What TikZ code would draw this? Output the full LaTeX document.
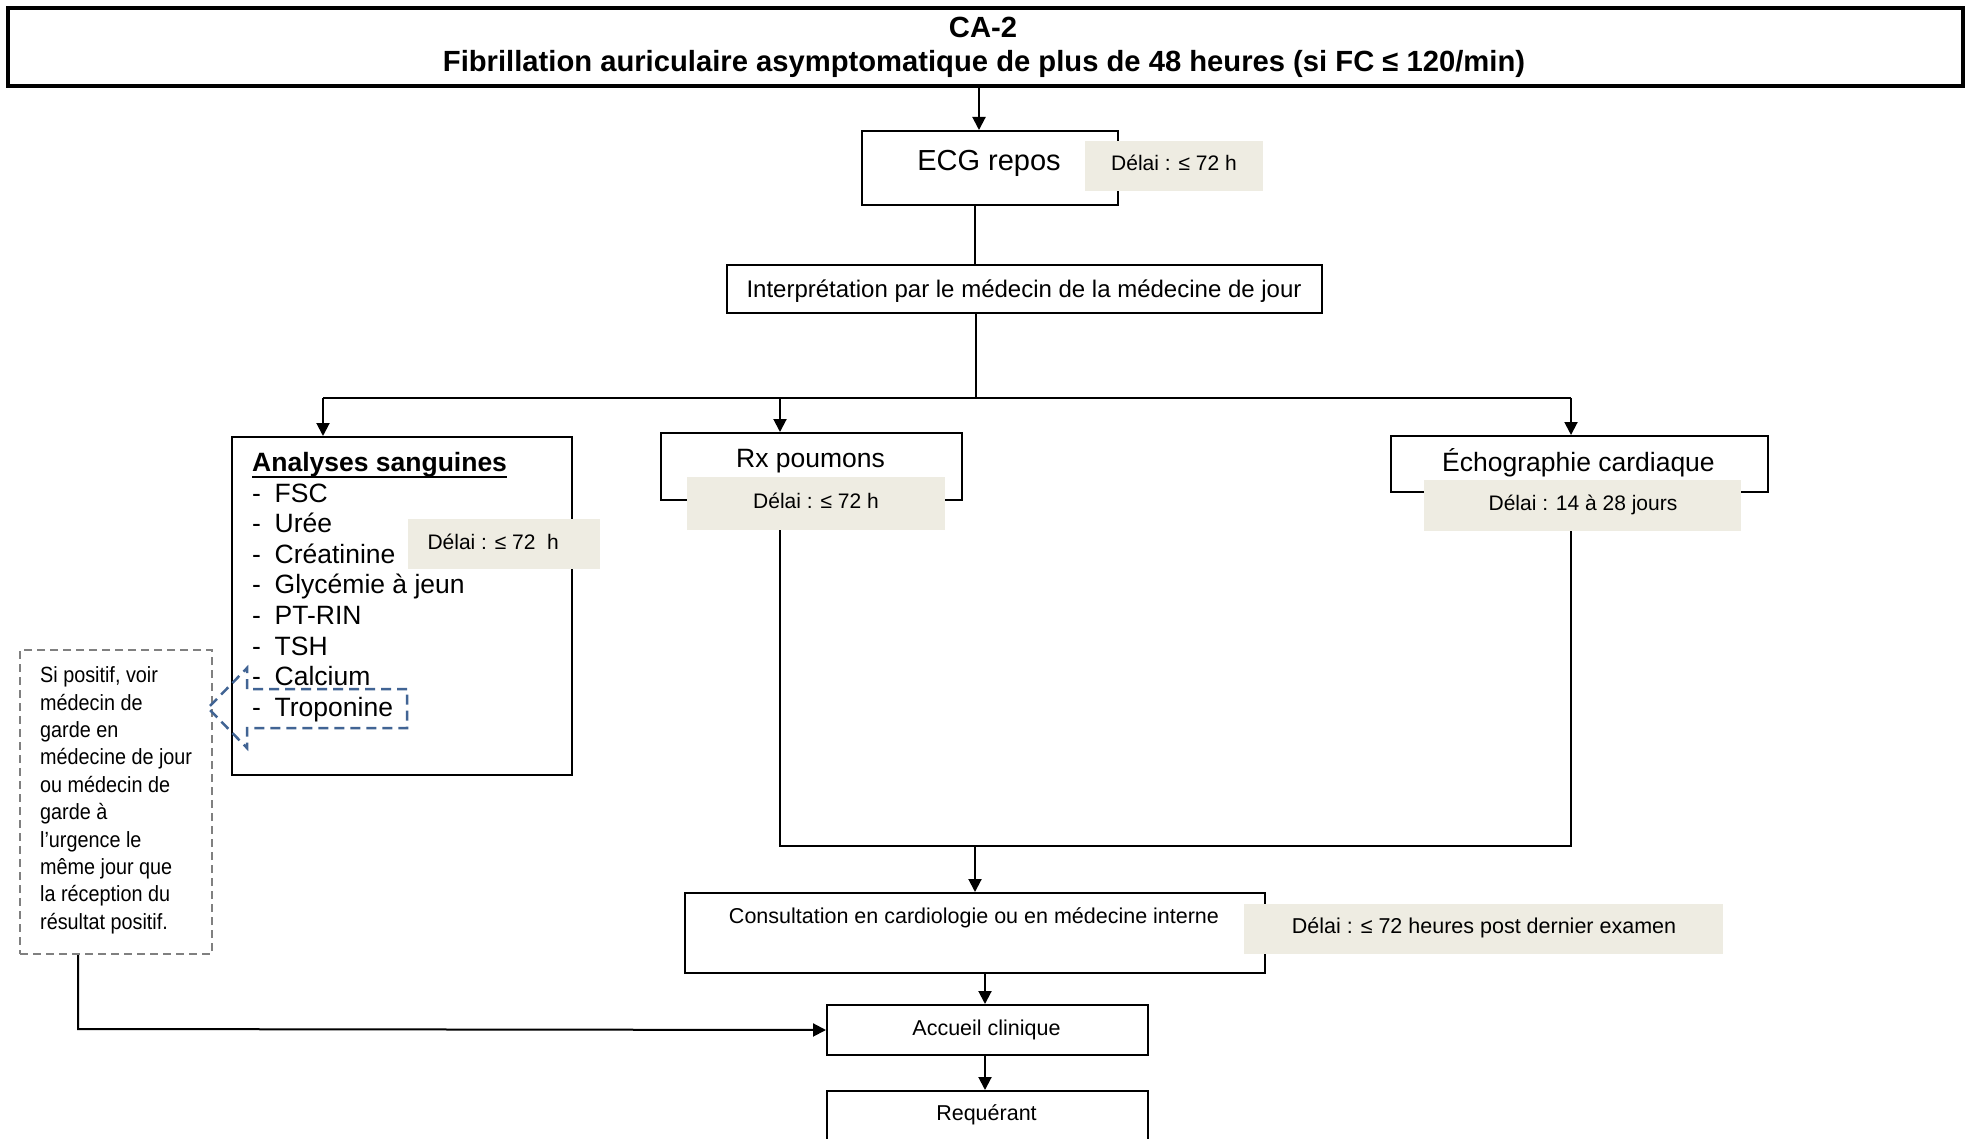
\documentclass[tikz,border=0pt]{standalone}
\usepackage{fontspec}
\setmainfont{Liberation Sans}
\newfontfamily\notefont[FakeStretch=0.9]{Liberation Sans}
\usetikzlibrary{arrows.meta}
\definecolor{delaifill}{RGB}{238,236,226}
\definecolor{calloutblue}{RGB}{65,100,148}
\definecolor{notegray}{RGB}{128,128,128}
\newcommand\setfs[1]{\fontsize{#1pt}{#1pt}\selectfont}

\begin{document}
\begin{tikzpicture}[x=1pt,y=-1pt,
  box/.style={draw=black, line width=2pt, rectangle, inner sep=0pt, anchor=north west},
  delai/.style={fill=delaifill, rectangle, inner sep=0pt, anchor=north west},
  txt/.style={inner sep=0pt, anchor=base},
  arr/.style={line width=2pt, -{Triangle[length=13pt,width=13pt]}},
  ln/.style={line width=2pt},
]
\useasboundingbox (0,0) rectangle (1965,1139);
\clip (0,0) rectangle (1965,1139);
\fill[white] (0,0) rectangle (1965,1139);

% ---- boxes ----
\node[box, line width=4pt, minimum width=1955pt, minimum height=78pt] (title) at (6,6) {};
\node[box, minimum width=256pt, minimum height=74pt] (ecg) at (861,130) {};
\node[box, minimum width=595pt, minimum height=48pt] (interp) at (726,264) {};
\node[box, minimum width=340pt, minimum height=338pt] (analyses) at (231,436) {};
\node[box, minimum width=301pt, minimum height=67pt] (rx) at (660,432) {};
\node[box, minimum width=377pt, minimum height=56pt] (echo) at (1390,435) {};
\node[box, minimum width=580pt, minimum height=80pt] (consult) at (684,892) {};
\node[box, minimum width=321pt, minimum height=50pt] (accueil) at (826,1004) {};
\node[box, minimum width=321pt, minimum height=80pt] (requerant) at (826,1090) {};
\node[box, draw=notegray, dash pattern=on 8pt off 5pt, minimum width=192pt, minimum height=304pt] (note) at (19,649) {};

% ---- delay tags ----
\node[delai, minimum width=178pt, minimum height=50pt] (decg) at (1085,141) {};
\node[delai, minimum width=192pt, minimum height=50pt] (dan) at (408,519) {};
\node[delai, minimum width=258pt, minimum height=53pt] (drx) at (687,477) {};
\node[delai, minimum width=317pt, minimum height=51pt] (decho) at (1424,480) {};
\node[delai, minimum width=479pt, minimum height=50pt] (dcons) at (1244,904) {};

% ---- texts ----
\node[txt, font=\bfseries\setfs{29.2}] (ca) at (983,37.5) {CA-2};
\node[txt, font=\bfseries\setfs{29.2}] (titre) at (984,72) {Fibrillation auriculaire asymptomatique de plus de 48 heures (si FC ≤ 120/min)};
\node[txt, font=\setfs{29}] (tecg) at (989,170.5) {ECG repos};
\node[txt, font=\setfs{21}] (tdecg) at (1174,171) {Délai : ≤ 72 h};
\node[txt, font=\setfs{24}] (tinterp) at (1024,297.5) {Interprétation par le médecin de la médecine de jour};

\node[txt, anchor=base west, font=\bfseries\setfs{26.5}] (atitle) at (252,471.7) {Analyses sanguines};
\draw[line width=2pt] ([yshift=-5pt]atitle.base west) -- ([yshift=-5pt]atitle.base east);
\foreach \t [count=\i from 0] in {FSC,Urée,Créatinine,Glycémie à jeun,PT-RIN,TSH,Calcium,Troponine} {
  \node[txt, anchor=base west, font=\setfs{26.5}] (dash\i) at (252,{502+30.6*\i}) {-};
  \node[txt, anchor=base west, font=\setfs{26.5}] (item\i) at (274.5,{502+30.6*\i}) {\t};
}
\node[txt, anchor=base west, font=\setfs{21}] (tdan) at (427.3,549.3) {Délai : ≤ 72\ \ h};

\node[txt, font=\setfs{26.5}] (trx) at (810.5,467.5) {Rx poumons};
\node[txt, font=\setfs{21}] (tdrx) at (816,508.3) {Délai : ≤ 72 h};
\node[txt, font=\setfs{26.5}] (techo) at (1578.5,471.7) {Échographie cardiaque};
\node[txt, font=\setfs{21}] (tdecho) at (1583,510) {Délai : 14 à 28 jours};

\node[txt, font=\setfs{21.5}] (tcons) at (974,923.6) {Consultation en cardiologie ou en médecine interne};
\node[txt, font=\setfs{21.5}] (tdcons) at (1484,933.6) {Délai : ≤ 72 heures post dernier examen};
\node[txt, font=\setfs{21.5}] (tacc) at (986.5,1035) {Accueil clinique};
\node[txt, font=\setfs{21.5}] (treq) at (986.5,1120) {Requérant};

\foreach \t [count=\i from 0] in {{Si positif, voir},médecin de,garde en,médecine de jour,ou médecin de,garde à,l’urgence le,même jour que,la réception du,résultat positif.} {
  \node[txt, anchor=base west, font=\notefont\setfs{22}] (note\i) at (40,{682.7+27.4*\i}) {\t};
}

% ---- callout around Troponine ----
\draw[calloutblue, line width=2.5pt, dash pattern=on 10pt off 6pt]
  (407,689) -- (247,689) -- (247,668) -- (208,708) -- (247,748) -- (247,728) -- (407,728) -- cycle;

% ---- connectors ----
\coordinate (xa) at (979,0);
\coordinate (xb) at (975,0);
\coordinate (busM) at (976,398);
\coordinate (busL) at (323,398);
\coordinate (busC) at (780,398);
\coordinate (busR) at (1571,398);
\coordinate (joinL) at (780,846);
\coordinate (joinM) at (975,846);
\coordinate (joinR) at (1571,846);
\coordinate (xc) at (985,0);
\coordinate (noteturn) at (78,1029);

\draw[arr] (title.south -| xa) -- (ecg.north -| xa);
\draw[ln] (ecg.south -| xb) -- (interp.north -| xb);
\draw[ln] (interp.south -| busM) -- (busM);
\draw[ln] (busL) -- (busR);
\draw[arr] (busL) -- (analyses.north -| busL);
\draw[arr] (busC) -- (rx.north -| busC);
\draw[arr] (busR) -- (echo.north -| busR);
\draw[ln] (drx.south -| joinL) -- (joinL) -- (joinR) -- (decho.south -| joinR);
\draw[arr] (joinM) -- (consult.north -| joinM);
\draw[arr] (consult.south -| xc) -- (accueil.north -| xc);
\draw[arr] (accueil.south -| xc) -- (requerant.north -| xc);
\draw[arr] (note.south -| noteturn) -- (noteturn) -- (accueil.west);
\end{tikzpicture}
\end{document}
